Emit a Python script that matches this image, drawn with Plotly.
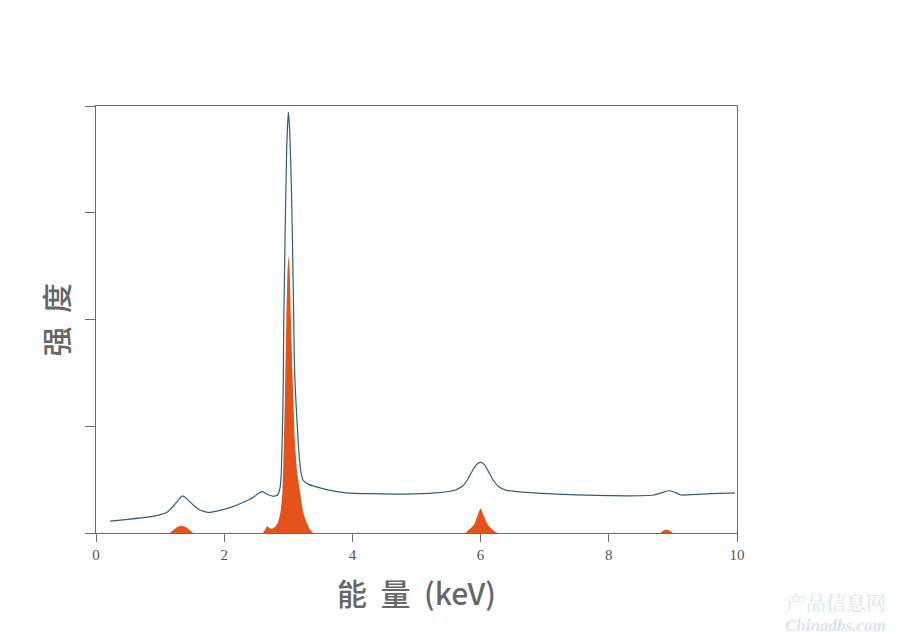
import plotly.graph_objects as go

# Blue measured spectrum (energy keV, intensity %)
blue_x = [0.22, 0.5, 0.8, 1.0, 1.12, 1.22, 1.3, 1.35, 1.42, 1.52, 1.62, 1.75, 1.9, 2.1, 2.3, 2.45,
          2.55, 2.6, 2.68, 2.77, 2.83, 2.87, 2.89, 2.91, 2.92, 2.93, 2.95, 2.975, 3.0, 3.02, 3.05,
          3.08, 3.095, 3.11, 3.14, 3.17, 3.2, 3.23, 3.3, 3.44, 3.65, 3.9, 4.3, 4.8, 5.3, 5.6, 5.72,
          5.8, 5.88, 5.95, 6.0, 6.06, 6.13, 6.2, 6.28, 6.4, 6.7, 7.2, 7.8, 8.3, 8.7, 8.82, 8.93,
          9.02, 9.12, 9.3, 9.6, 9.97]
blue_y = [2.8, 3.2, 3.7, 4.3, 5.0, 6.5, 8.0, 8.7, 8.0, 6.5, 5.4, 4.8, 5.2, 6.0, 7.2, 8.3,
          9.5, 9.7, 9.0, 8.6, 8.9, 10.5, 14, 25, 33.5, 50, 70, 90, 98.6, 95, 80,
          55, 40, 33.5, 25, 17.9, 14, 12.4, 11.5, 10.8, 10.0, 9.4, 9.2, 9.1, 9.4, 10.0, 11.0,
          12.6, 14.8, 16.2, 16.6, 16.0, 14.2, 12.3, 10.9, 10.0, 9.5, 9.1, 8.8, 8.7, 8.9, 9.4, 9.9,
          9.6, 8.9, 9.0, 9.2, 9.4]

# Orange fitted peaks
orange_x = [0.0, 1.15, 1.2, 1.27, 1.33, 1.4, 1.47, 1.52, 2.6, 2.63, 2.67, 2.71, 2.75, 2.80,
            2.84, 2.88, 2.91, 2.93, 2.95, 2.97, 2.99, 3.005, 3.02, 3.05, 3.08, 3.10, 3.14, 3.18,
            3.23, 3.29, 3.34, 3.39, 5.76, 5.82, 5.9, 5.95, 6.0, 6.05, 6.12, 6.2, 6.27,
            8.8, 8.85, 8.9, 8.95, 9.0, 10.0]
orange_y = [0, 0, 0.6, 1.4, 1.7, 1.4, 0.6, 0, 0, 0.6, 1.6, 1.2, 1.0, 1.5,
            2.5, 5, 10, 20, 33.5, 50, 62, 64.8, 62, 45, 31, 22, 14, 10,
            5, 2.3, 0.8, 0, 0, 0.8, 2, 4, 5.8, 4, 1.8, 0.6, 0,
            0, 0.5, 0.8, 0.5, 0, 0]

x_ticks = [0, 2, 4, 6, 8, 10]
y_ticks = [0, 25, 50, 75, 100]

fig = go.Figure()
fig.add_trace(go.Scatter(x=orange_x, y=orange_y, mode="lines", fill="tozeroy",
                         line=dict(color="#E5531A", width=0, shape="spline", smoothing=0.4),
                         fillcolor="#E5531A", hoverinfo="skip"))
fig.add_trace(go.Scatter(x=blue_x, y=blue_y, mode="lines",
                         line=dict(color="#2F5F78", width=1.2, shape="spline", smoothing=0.4)))

axis_common = dict(showline=True, linecolor="#6b6b6b", linewidth=1, mirror=True,
                   showgrid=False, zeroline=False, ticks="outside", tickcolor="#6b6b6b")
fig.update_xaxes(range=[0, 10], tickvals=x_ticks, ticktext=[str(v) for v in x_ticks],
                 ticklen=8, tickfont=dict(family="Liberation Serif", size=15, color="#555555"),
                 **axis_common)
fig.update_yaxes(range=[0, 100], tickvals=y_ticks, showticklabels=False, ticklen=10,
                 **axis_common)

fig.update_layout(
    width=892, height=628, showlegend=False,
    paper_bgcolor="white", plot_bgcolor="white",
    margin=dict(l=88, r=163, t=98, b=103),
    annotations=[
        dict(text="能&nbsp;&nbsp;量&nbsp;&nbsp;(keV)", xref="paper", yref="paper", x=0.5, y=0,
             yshift=-59, showarrow=False, xanchor="center", yanchor="middle",
             font=dict(family="Noto Sans CJK SC", size=30, color="#666666", weight=500)),
        dict(text="强&nbsp;&nbsp;度", xref="paper", yref="paper", x=0, y=0.5, xshift=-42,
             showarrow=False, xanchor="center", yanchor="middle", textangle=-90,
             font=dict(family="Noto Sans CJK SC", size=30, color="#666666", weight=500)),
        dict(text="产品信息网", xref="paper", yref="paper", x=1, y=0, xshift=151, yshift=-69,
             showarrow=False, xanchor="right", yanchor="middle",
             font=dict(family="Noto Serif CJK SC, Noto Sans CJK SC", size=20, color="#d6e5f1")),
        dict(text="<b><i>Chinadbs.com</i></b>", xref="paper", yref="paper", x=1, y=0,
             xshift=151, yshift=-92, showarrow=False, xanchor="right", yanchor="middle",
             font=dict(family="Liberation Serif", size=17, color="#d6e5f1")),
    ],
)

fig.write_html("out.html")
